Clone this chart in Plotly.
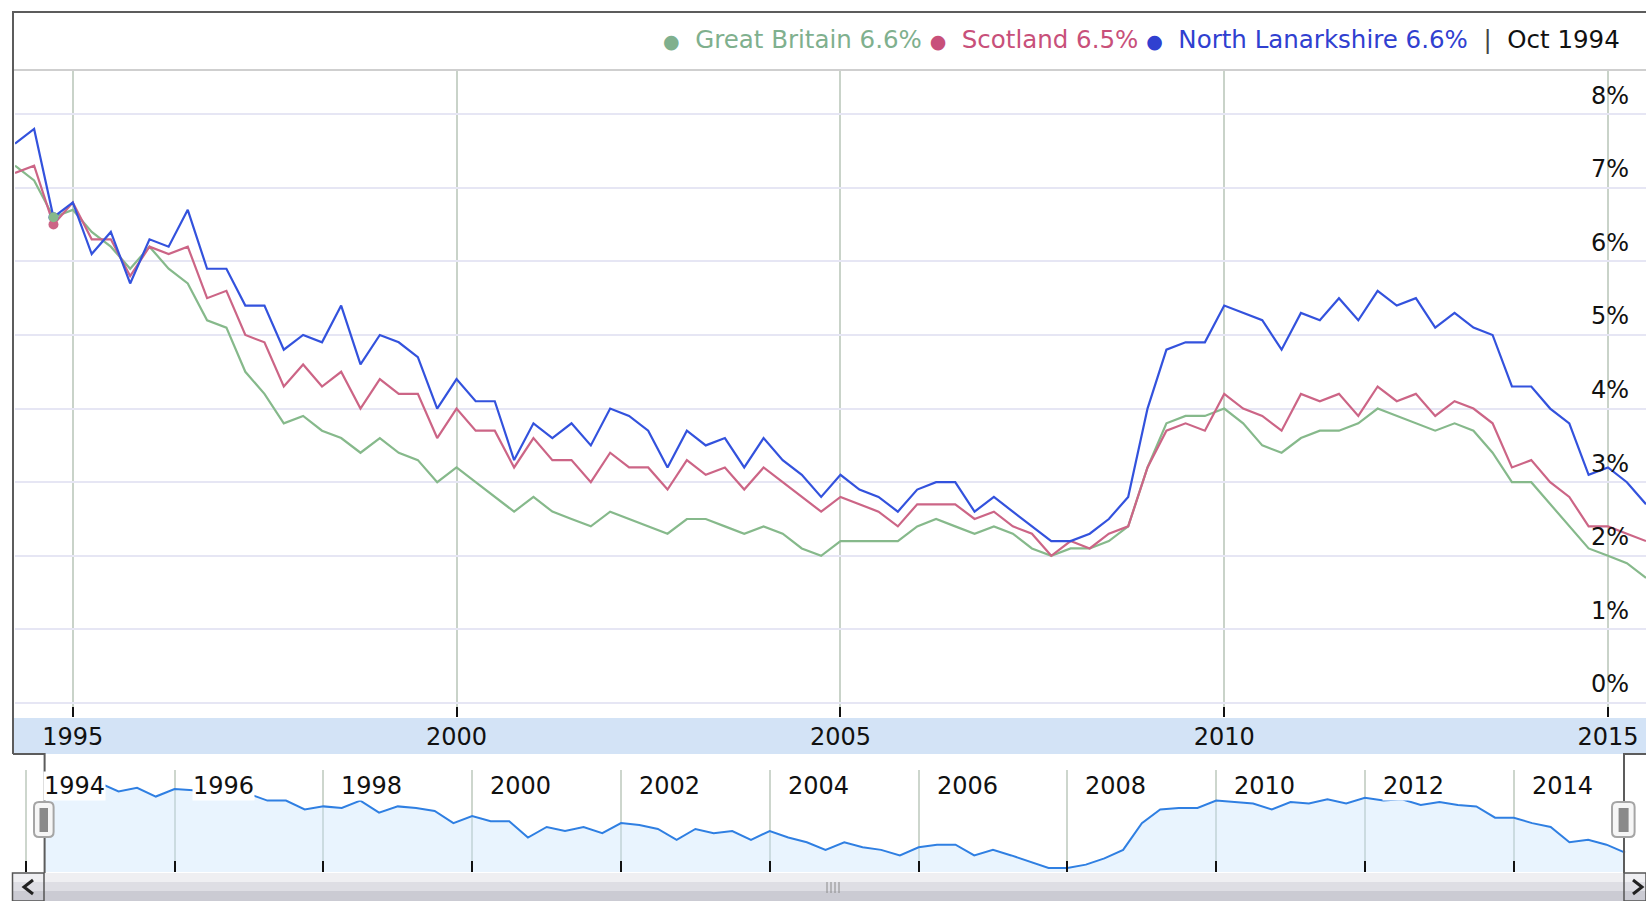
import pandas as pd
import plotly.graph_objects as go

# quarterly unemployment rate (%), Apr 1994 - Jul 2015
dates = pd.date_range("1994-04-01", "2015-07-01", freq="QS-JAN")

great_britain = [
    7.3, 7.1, 6.6,
    6.7, 6.4, 6.2, 5.9,
    6.2, 5.9, 5.7, 5.2,
    5.1, 4.5, 4.2, 3.8,
    3.9, 3.7, 3.6, 3.4,
    3.6, 3.4, 3.3, 3.0,
    3.2, 3.0, 2.8, 2.6,
    2.8, 2.6, 2.5, 2.4,
    2.6, 2.5, 2.4, 2.3,
    2.5, 2.5, 2.4, 2.3,
    2.4, 2.3, 2.1, 2.0,
    2.2, 2.2, 2.2, 2.2,
    2.4, 2.5, 2.4, 2.3,
    2.4, 2.3, 2.1, 2.0,
    2.1, 2.1, 2.2, 2.4,
    3.2, 3.8, 3.9, 3.9,
    4.0, 3.8, 3.5, 3.4,
    3.6, 3.7, 3.7, 3.8,
    4.0, 3.9, 3.8, 3.7,
    3.8, 3.7, 3.4, 3.0,
    3.0, 2.7, 2.4, 2.1,
    2.0, 1.9, 1.7,
]

scotland = [
    7.2, 7.3, 6.5,
    6.8, 6.3, 6.3, 5.8,
    6.2, 6.1, 6.2, 5.5,
    5.6, 5.0, 4.9, 4.3,
    4.6, 4.3, 4.5, 4.0,
    4.4, 4.2, 4.2, 3.6,
    4.0, 3.7, 3.7, 3.2,
    3.6, 3.3, 3.3, 3.0,
    3.4, 3.2, 3.2, 2.9,
    3.3, 3.1, 3.2, 2.9,
    3.2, 3.0, 2.8, 2.6,
    2.8, 2.7, 2.6, 2.4,
    2.7, 2.7, 2.7, 2.5,
    2.6, 2.4, 2.3, 2.0,
    2.2, 2.1, 2.3, 2.4,
    3.2, 3.7, 3.8, 3.7,
    4.2, 4.0, 3.9, 3.7,
    4.2, 4.1, 4.2, 3.9,
    4.3, 4.1, 4.2, 3.9,
    4.1, 4.0, 3.8, 3.2,
    3.3, 3.0, 2.8, 2.4,
    2.4, 2.3, 2.2,
]

north_lanarkshire = [
    7.6, 7.8, 6.6,
    6.8, 6.1, 6.4, 5.7,
    6.3, 6.2, 6.7, 5.9,
    5.9, 5.4, 5.4, 4.8,
    5.0, 4.9, 5.4, 4.6,
    5.0, 4.9, 4.7, 4.0,
    4.4, 4.1, 4.1, 3.3,
    3.8, 3.6, 3.8, 3.5,
    4.0, 3.9, 3.7, 3.2,
    3.7, 3.5, 3.6, 3.2,
    3.6, 3.3, 3.1, 2.8,
    3.1, 2.9, 2.8, 2.6,
    2.9, 3.0, 3.0, 2.6,
    2.8, 2.6, 2.4, 2.2,
    2.2, 2.3, 2.5, 2.8,
    4.0, 4.8, 4.9, 4.9,
    5.4, 5.3, 5.2, 4.8,
    5.3, 5.2, 5.5, 5.2,
    5.6, 5.4, 5.5, 5.1,
    5.3, 5.1, 5.0, 4.3,
    4.3, 4.0, 3.8, 3.1,
    3.2, 3.0, 2.7,
]

# navigator year labels
nav_years = [1994, 1996, 1998, 2000, 2002, 2004, 2006, 2008, 2010, 2012, 2014]

names = ["Great Britain", "Scotland", "North Lanarkshire"]
line_colors = ["#86b98b", "#cc6586", "#3352dd"]
text_colors = ["#7fb08e", "#c8507a", "#3040d0"]
series = [great_britain, scotland, north_lanarkshire]
sel = 2  # the highlighted point (Oct 1994)

W, H = 1646, 901
FONT = "DejaVu Sans"


def px(x):
    return x / W


def py(y):
    return 1 - y / H


fig = go.Figure()

for name, vals, col in zip(names, series, line_colors):
    fig.add_trace(go.Scatter(x=dates, y=vals, name=name, mode="lines",
                             line=dict(color=col, width=2.2), xaxis="x", yaxis="y"))

for name, vals, col in list(zip(names, series, line_colors))[::-1]:
    fig.add_trace(go.Scatter(x=[dates[sel]], y=[vals[sel]], mode="markers",
                             marker=dict(color=col, size=10), xaxis="x", yaxis="y"))

# navigator (overview) chart
fig.add_trace(go.Scatter(x=dates, y=north_lanarkshire, mode="lines", fill="tozeroy",
                         line=dict(color="#2f7fe2", width=2),
                         fillcolor="rgba(200,228,252,0.4)", xaxis="x2", yaxis="y2"))

# legend text built from the highlighted point
dot = '<span style="font-size:19px">●</span>'
parts = []
for name, vals, col in zip(names, series, text_colors):
    parts.append(f'<span style="color:{col}">{dot}&nbsp; {name} {vals[sel]}%</span>')
legend_text = " ".join(parts) + ' &nbsp;<span style="color:#444">|</span>&nbsp; ' + \
    f'<span style="color:#111">{dates[sel].strftime("%b %Y")}</span>'

annotations = [dict(xref="paper", yref="paper", x=px(1622), y=py(40),
                    xanchor="right", yanchor="middle", showarrow=False,
                    text=legend_text, font=dict(family=FONT, size=24.5))]
for yr in nav_years:
    annotations.append(dict(xref="x2", yref="paper", x=f"{yr}-01-01", y=py(786),
                            xanchor="left", yanchor="middle", xshift=17, showarrow=False,
                            text=str(yr), bgcolor="white", borderpad=0,
                            font=dict(family=FONT, size=24, color="#111")))

shapes = []
# x-axis label band
shapes.append(dict(type="rect", xref="paper", yref="paper", x0=px(14), x1=1,
                   y0=py(754), y1=py(718), fillcolor="#d3e3f6", line=dict(width=0),
                   layer="below"))
# legend separator
shapes.append(dict(type="line", xref="paper", yref="paper", x0=px(14), x1=1,
                   y0=py(70), y1=py(70), line=dict(color="#cfcfcf", width=2)))
# scrollbar
for y0, y1, c in [(873, 882, "#efeff2"), (882, 891, "#dedee4"), (891, 901, "#cbcbd3")]:
    shapes.append(dict(type="rect", xref="paper", yref="paper", x0=px(12), x1=1,
                       y0=py(y1), y1=py(y0), fillcolor=c, line=dict(width=0)))
for x0, x1 in [(12.5, 44), (1624, 1646)]:
    shapes.append(dict(type="rect", xref="paper", yref="paper", x0=px(x0), x1=px(x1),
                       y0=py(901), y1=py(873), line=dict(color="#555", width=1.5)))
shapes.append(dict(type="path", xref="paper", yref="paper",
                   path=f"M {px(33)},{py(880)} L {px(24)},{py(887)} L {px(33)},{py(894)}",
                   line=dict(color="#222", width=3)))
shapes.append(dict(type="path", xref="paper", yref="paper",
                   path=f"M {px(1633)},{py(880)} L {px(1642)},{py(887)} L {px(1633)},{py(894)}",
                   line=dict(color="#222", width=3)))
for gx in [827, 831, 835, 839]:
    shapes.append(dict(type="line", xref="paper", yref="paper", x0=px(gx), x1=px(gx),
                       y0=py(893), y1=py(882), line=dict(color="#8a8a8a", width=1)))

# outer frame
frame_paths = [
    [(13, 754), (13, 12), (1646, 12)],
    [(13, 754), (44.6, 754), (44.6, 873)],
    [(1646, 754), (1624, 754), (1624, 873)],
]
for pts in frame_paths:
    p = "M " + " L ".join(f"{px(a)},{py(b)}" for a, b in pts)
    shapes.append(dict(type="path", xref="paper", yref="paper", path=p,
                       line=dict(color="#5c5c5c", width=2)))


def rounded(x0, y0, x1, y1, r):
    pts = [f"M {px(x0 + r)},{py(y0)}", f"L {px(x1 - r)},{py(y0)}",
           f"Q {px(x1)},{py(y0)} {px(x1)},{py(y0 + r)}", f"L {px(x1)},{py(y1 - r)}",
           f"Q {px(x1)},{py(y1)} {px(x1 - r)},{py(y1)}", f"L {px(x0 + r)},{py(y1)}",
           f"Q {px(x0)},{py(y1)} {px(x0)},{py(y1 - r)}", f"L {px(x0)},{py(y0 + r)}",
           f"Q {px(x0)},{py(y0)} {px(x0 + r)},{py(y0)}", "Z"]
    return " ".join(pts)


# navigator handles
for hx0, hx1, ix0, ix1 in [(34, 53.6, 39.5, 48), (1612, 1634.6, 1618.6, 1628.6)]:
    shapes.append(dict(type="path", xref="paper", yref="paper",
                       path=rounded(hx0, 802, hx1, 837, 5), fillcolor="#f6f6f6",
                       line=dict(color="#a5a5a5", width=2)))
    shapes.append(dict(type="rect", xref="paper", yref="paper", x0=px(ix0), x1=px(ix1),
                       y0=py(832), y1=py(808), fillcolor="#8a8a8a", line=dict(width=0)))

fig.update_layout(
    width=W, height=H,
    margin=dict(l=0, r=0, t=0, b=0),
    paper_bgcolor="white", plot_bgcolor="white",
    showlegend=False,
    font=dict(family=FONT, size=24, color="#111"),
    xaxis=dict(domain=[px(15), 1], range=[dates[0], dates[-1]], type="date",
               tick0="1995-01-01", dtick="M60", tickformat="%Y",
               showgrid=True, gridcolor="#c9d3c9", gridwidth=1.5,
               ticks="inside", ticklen=10, tickwidth=2, tickcolor="#111",
               ticklabelstandoff=3, zeroline=False, showline=False, fixedrange=True),
    yaxis=dict(domain=[py(717), py(70)], range=[-0.19, 8.6], dtick=1,
               anchor="free", position=px(1590), side="right",
               ticklabelposition="outside", ticksuffix="%", ticklabelshift=-19,
               showgrid=True, gridcolor="#e6e6f4", gridwidth=2,
               zeroline=False, showline=False, ticks=""),
    xaxis2=dict(domain=[px(12), 1], range=["1993-10-25", "2015-10-12"], type="date",
                anchor="y2", tick0="1994-01-01", dtick="M24", showticklabels=False,
                showgrid=True, gridcolor="#cdd6cd", gridwidth=1.5,
                ticks="inside", ticklen=11, tickwidth=2, tickcolor="#111",
                zeroline=False, showline=False),
    yaxis2=dict(domain=[py(872), py(770)], type="log", range=[0.319, 0.9096],
                anchor="x2", showgrid=False, showticklabels=False, zeroline=False,
                showline=False, ticks=""),
    shapes=shapes,
    annotations=annotations,
)

fig.write_html("out.html", config={"displayModeBar": False},
               post_script="document.body.style.margin='0';document.body.style.overflow='hidden';")
